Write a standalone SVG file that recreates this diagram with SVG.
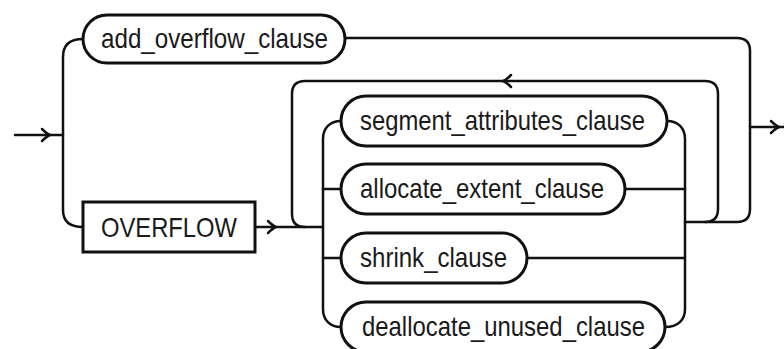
<svg xmlns="http://www.w3.org/2000/svg" xmlns:xlink="http://www.w3.org/1999/xlink" width="784" height="349" viewBox="0 0 784 349">
  <style>
    .line { fill: none; stroke: #111; stroke-width: 2.5; stroke-linecap: round; stroke-linejoin: round; }
    .box { fill: #fff; stroke: #111; stroke-width: 3; }
    .lbl { font-family: "Liberation Sans", Arial, sans-serif; font-size: 28px; fill: #1a1a1a; }
    .chev { fill: none; stroke: #111; stroke-width: 2.5; stroke-linecap: round; stroke-linejoin: round; }
  </style>
  <defs>
    <!-- open arrowhead, tip at origin, pointing right -->
    <path id="chev" class="chev" d="M -8 -6 Q -3 -1 0 0 Q -3 1 -8 6"/>
  </defs>
  <rect width="784" height="349" fill="#fff"/>

  <g id="connectors">
    <!-- entry -->
    <path class="line" d="M 15 135 H 63"/>
    <use xlink:href="#chev" transform="translate(50 135)"/>
    <!-- split to add_overflow_clause / OVERFLOW -->
    <path class="line" d="M 83 39 C 70 39 63 45 63 57 V 210 C 63 221 70 227 83 227"/>
    <!-- OVERFLOW to option bus -->
    <path class="line" d="M 255 227 H 323"/>
    <use xlink:href="#chev" transform="translate(276 227)"/>
    <!-- left option bus -->
    <path class="line" d="M 341 121 C 330 121 323 128 323 139 V 309 C 323 320 330 327 341 327"/>
    <path class="line" d="M 323 189 H 341"/>
    <path class="line" d="M 323 258 H 341"/>
    <!-- right option bus -->
    <path class="line" d="M 667 121 C 678 121 685 128 685 139 V 309 C 685 320 678 327 665 327"/>
    <path class="line" d="M 625 189 H 685"/>
    <path class="line" d="M 527 258 H 685"/>
    <!-- repeat loop -->
    <path class="line" d="M 685 222 H 705 Q 718 222 718 209 V 94 Q 718 81 705 81 H 305 Q 292 81 292 94 V 214 Q 292 227 305 227"/>
    <use xlink:href="#chev" transform="translate(503 81) rotate(180)"/>
    <!-- outer path to exit -->
    <path class="line" d="M 705 222 H 737 Q 750 222 750 209 V 51 Q 750 38 737 38 H 345"/>
    <!-- exit -->
    <path class="line" d="M 750 127 H 784"/>
    <use xlink:href="#chev" transform="translate(779 127)"/>
  </g>

  <g id="add_overflow_clause">
    <rect class="box" x="83" y="15" width="262" height="48" rx="24"/>
    <text class="lbl" x="101" y="48" textLength="227" lengthAdjust="spacingAndGlyphs">add_overflow_clause</text>
  </g>

  <g id="overflow">
    <rect class="box" x="83" y="202" width="172" height="50"/>
    <text class="lbl" x="101" y="237" textLength="136" lengthAdjust="spacingAndGlyphs">OVERFLOW</text>
  </g>

  <g id="segment_attributes_clause">
    <rect class="box" x="341" y="96" width="326" height="50" rx="25"/>
    <text class="lbl" x="360" y="130" textLength="285" lengthAdjust="spacingAndGlyphs">segment_attributes_clause</text>
  </g>

  <g id="allocate_extent_clause">
    <rect class="box" x="341" y="164" width="284" height="50" rx="25"/>
    <text class="lbl" x="360" y="198" textLength="244" lengthAdjust="spacingAndGlyphs">allocate_extent_clause</text>
  </g>

  <g id="shrink_clause">
    <rect class="box" x="341" y="233" width="186" height="50" rx="25"/>
    <text class="lbl" x="360" y="267" textLength="147" lengthAdjust="spacingAndGlyphs">shrink_clause</text>
  </g>

  <g id="deallocate_unused_clause">
    <rect class="box" x="341" y="302" width="324" height="50" rx="25"/>
    <text class="lbl" x="362" y="336" textLength="283" lengthAdjust="spacingAndGlyphs">deallocate_unused_clause</text>
  </g>
</svg>
